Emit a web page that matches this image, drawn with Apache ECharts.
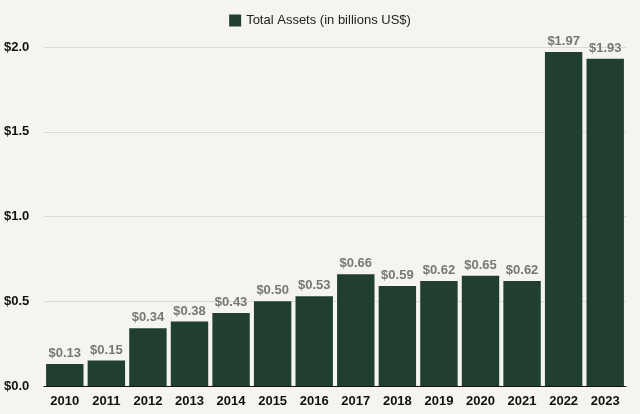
<!DOCTYPE html>
<html><head><meta charset="utf-8">
<script src="https://cdn.jsdelivr.net/npm/echarts@6/dist/echarts.min.js"></script>
<style>html,body{margin:0;padding:0;background:#f5f4f0;}#c{width:640px;height:414px;}</style>
</head><body><div id="c"></div>
<script>
const categories = ['2010','2011','2012','2013','2014','2015','2016','2017','2018','2019','2020','2021','2022','2023'];
const totalAssets = [0.13,0.15,0.34,0.38,0.43,0.50,0.53,0.66,0.59,0.62,0.65,0.62,1.97,1.93];
const yTicks = [0, 0.5, 1.0, 1.5, 2.0];
const seriesName = 'Total Assets (in billions US$)';
const chart = echarts.init(document.getElementById('c'));
chart.setOption({
  backgroundColor: '#f5f4f0',
  textStyle: {fontFamily: 'Liberation Sans, Arial, sans-serif'},
  legend: {top: 9, left: 'center', icon: 'rect', itemWidth: 12, itemHeight: 12, itemGap: 8,
    textStyle: {fontSize: 13, color: '#222'}, data: [seriesName]},
  grid: {left: 44, right: 14, top: 47, bottom: 28},
  xAxis: {type: 'category', data: categories,
    axisLine: {lineStyle: {color: '#111', width: 1}}, axisTick: {show: false},
    axisLabel: {color: '#111', fontWeight: 'bold', fontSize: 13, margin: 9}},
  yAxis: {type: 'value', min: yTicks[0], max: yTicks[yTicks.length-1], interval: 0.5,
    axisLine: {show: false}, axisTick: {show: false},
    splitLine: {lineStyle: {color: '#d9d9d6', width: 1}},
    axisLabel: {color: '#111', fontWeight: 'bold', fontSize: 13, align: 'left', margin: 40,
      formatter: v => '$' + v.toFixed(1)}},
  series: [{name: seriesName, type: 'bar', data: totalAssets, barCategoryGap: '10%',
    itemStyle: {color: '#213f31'},
    label: {show: true, position: 'top', distance: 4, color: '#777', fontWeight: 'bold', fontSize: 13,
      formatter: p => '$' + p.value.toFixed(2)}}]
});
</script></body></html>
